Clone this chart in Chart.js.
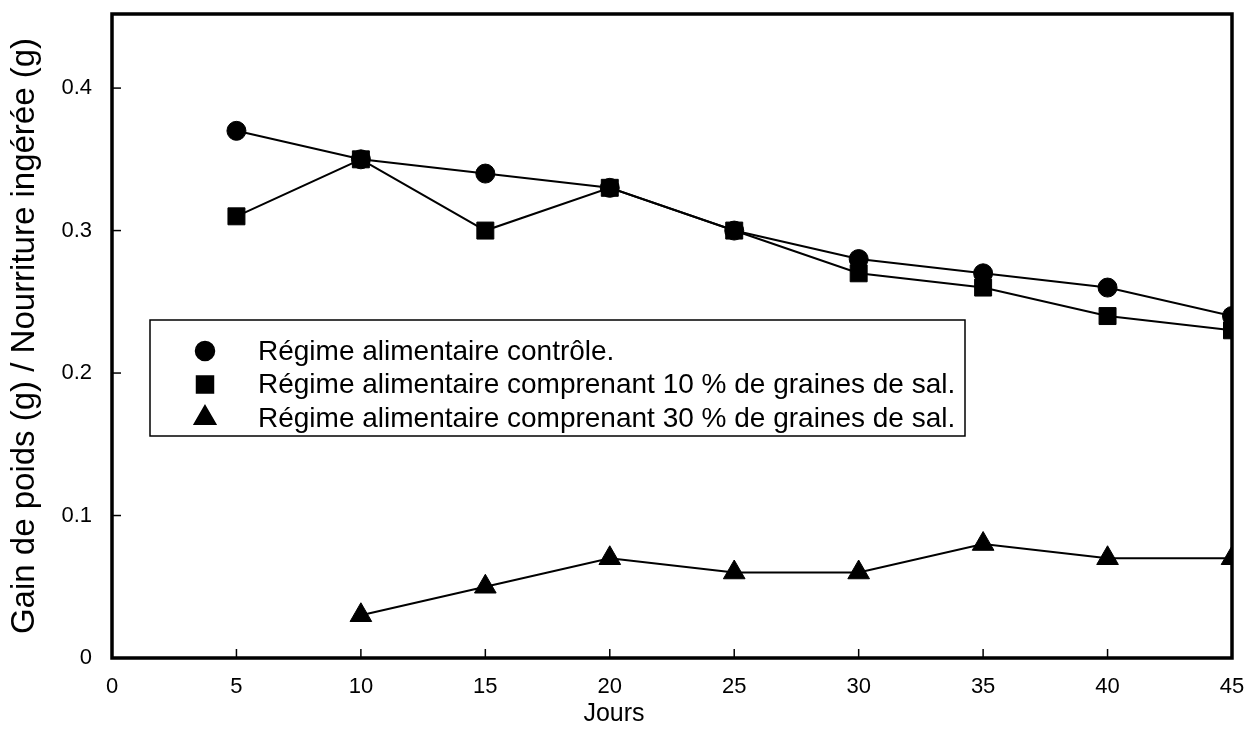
<!DOCTYPE html>
<html>
<head>
<meta charset="utf-8">
<script src="https://cdn.jsdelivr.net/npm/chart.js@4"></script>
<style>
  html, body { margin: 0; padding: 0; background: #fff; }
  #wrap { width: 1257px; height: 743px; }
</style>
</head>
<body>
<div id="wrap"><canvas id="chart"></canvas></div>
<script>
const days = [5, 10, 15, 20, 25, 30, 35, 40, 45];
const controle = [0.37, 0.35, 0.34, 0.33, 0.30, 0.28, 0.27, 0.26, 0.24];
const sal10 = [0.31, 0.35, 0.30, 0.33, 0.30, 0.27, 0.26, 0.24, 0.23];
const sal30 = [null, 0.03, 0.05, 0.07, 0.06, 0.06, 0.08, 0.07, 0.07];
const xTicks = [0, 5, 10, 15, 20, 25, 30, 35, 40, 45];
const yTicks = [0, 0.1, 0.2, 0.3, 0.4];
const yTickLabels = ['0', '0.1', '0.2', '0.3', '0.4'];
const seriesNames = [
  'Régime alimentaire contrôle.',
  'Régime alimentaire comprenant 10 % de graines de sal.',
  'Régime alimentaire comprenant 30 % de graines de sal.'
];
const xTitle = 'Jours';
const yTitle = 'Gain de poids (g) / Nourriture ingérée (g)';

const FONT = '"Liberation Sans", Arial, Helvetica, sans-serif';

function points(values) {
  return days.map((d, i) => ({ x: d, y: values[i] }));
}

// frame, inward ticks, x title (off-centre in the original) and boxed legend
const framePlugin = {
  id: 'frame',
  afterDraw(chart) {
    const { ctx, chartArea: a, scales: { x, y } } = chart;
    ctx.save();
    ctx.strokeStyle = '#000';
    ctx.lineWidth = 3.5;
    ctx.strokeRect(a.left, a.top, a.right - a.left, a.bottom - a.top);

    ctx.lineWidth = 1.5;
    xTicks.forEach(v => {
      const px = x.getPixelForValue(v);
      ctx.beginPath();
      ctx.moveTo(px, a.bottom);
      ctx.lineTo(px, a.bottom - 9);
      ctx.stroke();
    });
    yTicks.forEach(v => {
      const py = y.getPixelForValue(v);
      ctx.beginPath();
      ctx.moveTo(a.left, py);
      ctx.lineTo(a.left + 9, py);
      ctx.stroke();
    });

    ctx.fillStyle = '#000';
    ctx.font = '25px ' + FONT;
    ctx.textAlign = 'center';
    ctx.textBaseline = 'middle';
    ctx.fillText(xTitle, 614, 714);

    // legend box
    const bx = 150, by = 320, bw = 815, bh = 116;
    ctx.fillStyle = '#fff';
    ctx.fillRect(bx, by, bw, bh);
    ctx.lineWidth = 1.5;
    ctx.strokeRect(bx, by, bw, bh);
    ctx.font = '28px ' + FONT;
    ctx.textAlign = 'left';
    chart.data.datasets.forEach((ds, i) => {
      const cy = by + 31 + i * 33.5;
      ctx.fillStyle = '#000';
      ctx.strokeStyle = '#000';
      Chart.helpers.drawPoint(ctx, {
        pointStyle: ds.pointStyle,
        radius: ds.pointRadius,
        borderWidth: 1
      }, 205, cy);
      ctx.fillText(ds.label, 258, cy + 1);
    });
    ctx.restore();
  }
};

new Chart(document.getElementById('chart'), {
  type: 'line',
  data: {
    datasets: [
      {
        label: seriesNames[0],
        data: points(controle),
        pointStyle: 'circle',
        pointRadius: 9.5
      },
      {
        label: seriesNames[1],
        data: points(sal10),
        pointStyle: 'rect',
        pointRadius: 12
      },
      {
        label: seriesNames[2],
        data: points(sal30),
        pointStyle: 'triangle',
        pointRadius: 12.5
      }
    ].map(ds => Object.assign(ds, {
      borderColor: '#000',
      backgroundColor: '#000',
      pointBackgroundColor: '#000',
      pointBorderColor: '#000',
      borderWidth: 2,
      pointBorderWidth: 1,
      tension: 0,
      spanGaps: false
    }))
  },
  options: {
    responsive: true,
    maintainAspectRatio: false,
    animation: false,
    layout: { padding: { top: 14, right: 25, left: 0, bottom: 0 } },
    plugins: {
      legend: { display: false },
      tooltip: { enabled: false }
    },
    scales: {
      x: {
        type: 'linear',
        min: 0,
        max: 45,
        afterBuildTicks: s => { s.ticks = xTicks.map(v => ({ value: v })); },
        afterFit: s => { s.height = 85; s.paddingLeft = 0; s.paddingRight = 0; },
        grid: { display: false, drawTicks: false },
        border: { display: false },
        ticks: {
          color: '#000',
          padding: 16,
          font: { family: FONT, size: 22 }
        },
        title: { display: false }
      },
      y: {
        type: 'linear',
        min: 0,
        max: 0.452,
        afterBuildTicks: s => { s.ticks = yTicks.map(v => ({ value: v })); },
        afterFit: s => { s.width = 112; s.paddingTop = 0; s.paddingBottom = 0; },
        grid: { display: false, drawTicks: false },
        border: { display: false },
        ticks: {
          color: '#000',
          padding: 20,
          font: { family: FONT, size: 22 },
          callback: (v, i) => yTickLabels[i]
        },
        title: {
          display: true,
          text: yTitle,
          color: '#000',
          font: { family: FONT, size: 33 },
          padding: { top: 5, bottom: 0 }
        }
      }
    }
  },
  plugins: [framePlugin]
});
</script>
</body>
</html>
